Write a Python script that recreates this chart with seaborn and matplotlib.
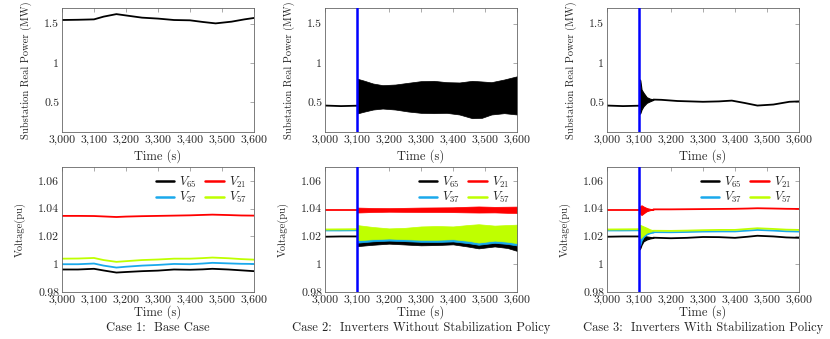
import matplotlib
matplotlib.use('Agg')
import matplotlib.pyplot as plt
import seaborn as sns
from matplotlib.ticker import FuncFormatter, FixedLocator

# ---------- data ----------
# Case 1: base case
t1 = [3000, 3050, 3100, 3130, 3170, 3200, 3250, 3300, 3350, 3400, 3440, 3480, 3530, 3570, 3600]
p1 = [1.547, 1.550, 1.555, 1.590, 1.622, 1.605, 1.577, 1.565, 1.547, 1.543, 1.522, 1.504, 1.526, 1.555, 1.573]

t1v = [3000, 3050, 3100, 3130, 3170, 3200, 3250, 3300, 3350, 3400, 3440, 3470, 3520, 3560, 3600]
v65_1 = [0.9962, 0.9962, 0.9967, 0.9955, 0.9940, 0.9944, 0.9950, 0.9954, 0.9962, 0.9960, 0.9963, 0.9967, 0.9962, 0.9956, 0.9950]
v21_1 = [1.0348, 1.0348, 1.0347, 1.0344, 1.0340, 1.0343, 1.0346, 1.0348, 1.0350, 1.0352, 1.0355, 1.0357, 1.0354, 1.0351, 1.0350]
v37_1 = [1.0000, 1.0000, 1.0005, 0.9990, 0.9976, 0.9982, 0.9990, 0.9995, 1.0002, 1.0000, 1.0005, 1.0010, 1.0006, 1.0003, 1.0002]
v57_1 = [1.0040, 1.0041, 1.0045, 1.0030, 1.0017, 1.0022, 1.0030, 1.0034, 1.0040, 1.0040, 1.0044, 1.0048, 1.0043, 1.0037, 1.0033]

# before the inverters switch on (cases 2 and 3)
t_pre = [3000, 3050, 3100]
p_pre = [0.457, 0.450, 0.455]
v65_pre = [1.0198, 1.0200, 1.0200]
v21_pre = [1.0390, 1.0390, 1.0390]
v37_pre = [1.0243, 1.0243, 1.0244]
v57_pre = [1.0250, 1.0251, 1.0252]

# Case 2: oscillation envelopes after 3100 s
t2 = [3100, 3120, 3150, 3180, 3220, 3260, 3300, 3340, 3380, 3420, 3460, 3490, 3520, 3560, 3600]
p2_hi = [0.800, 0.777, 0.738, 0.717, 0.725, 0.747, 0.768, 0.772, 0.755, 0.751, 0.772, 0.764, 0.755, 0.789, 0.830]
p2_lo = [0.355, 0.377, 0.406, 0.419, 0.406, 0.381, 0.364, 0.360, 0.364, 0.343, 0.296, 0.300, 0.343, 0.360, 0.343]

t2v = [3100, 3150, 3200, 3250, 3300, 3350, 3400, 3450, 3480, 3530, 3570, 3600]
v21_2_hi = [1.0408, 1.0405, 1.0404, 1.0406, 1.0408, 1.0409, 1.0410, 1.0414, 1.0416, 1.0413, 1.0414, 1.0415]
v21_2_lo = [1.0372, 1.0376, 1.0378, 1.0377, 1.0376, 1.0376, 1.0375, 1.0373, 1.0372, 1.0373, 1.0370, 1.0369]
v57_2_hi = [1.0282, 1.0268, 1.0258, 1.0262, 1.0272, 1.0275, 1.0272, 1.0283, 1.0288, 1.0278, 1.0282, 1.0285]
v57_2_lo = [1.0172, 1.0180, 1.0185, 1.0180, 1.0176, 1.0176, 1.0180, 1.0168, 1.0156, 1.0170, 1.0162, 1.0152]
v37_2_hi = [1.0250, 1.0250, 1.0250, 1.0250, 1.0250, 1.0250, 1.0250, 1.0250, 1.0250, 1.0250, 1.0250, 1.0250]
v37_2_lo = [1.0155, 1.0165, 1.0170, 1.0166, 1.0161, 1.0160, 1.0164, 1.0151, 1.0140, 1.0154, 1.0146, 1.0135]
v65_2_hi = [1.0180, 1.0185, 1.0188, 1.0185, 1.0182, 1.0182, 1.0185, 1.0176, 1.0168, 1.0178, 1.0172, 1.0165]
v65_2_lo = [1.0130, 1.0140, 1.0148, 1.0142, 1.0136, 1.0138, 1.0143, 1.0126, 1.0114, 1.0128, 1.0117, 1.0096]

# Case 3: short ringing after 3100 s, then settled
t3r = [3100, 3102, 3104, 3108, 3114, 3124, 3135, 3145]
p3r_hi = [0.460, 0.790, 0.780, 0.660, 0.620, 0.563, 0.543, 0.536]
p3r_lo = [0.450, 0.353, 0.360, 0.407, 0.449, 0.492, 0.513, 0.530]
v21_3r_hi = [1.0392, 1.0405, 1.0418, 1.0424, 1.0415, 1.0404, 1.0398, 1.0396]
v21_3r_lo = [1.0388, 1.0375, 1.0362, 1.0355, 1.0366, 1.0382, 1.0390, 1.0393]
v57_3r_hi = [1.0254, 1.0280, 1.0282, 1.0278, 1.0272, 1.0262, 1.0250, 1.0244]
v57_3r_lo = [1.0250, 1.0190, 1.0188, 1.0195, 1.0210, 1.0228, 1.0236, 1.0240]
v37_3r_hi = [1.0246, 1.0262, 1.0260, 1.0256, 1.0250, 1.0244, 1.0237, 1.0233]
v37_3r_lo = [1.0242, 1.0135, 1.0140, 1.0170, 1.0195, 1.0215, 1.0225, 1.0229]
v65_3r_hi = [1.0201, 1.0215, 1.0212, 1.0208, 1.0204, 1.0200, 1.0196, 1.0193]
v65_3r_lo = [1.0199, 1.0108, 1.0115, 1.0140, 1.0165, 1.0178, 1.0186, 1.0190]

t3s = [3145, 3170, 3220, 3300, 3350, 3390, 3430, 3470, 3520, 3570, 3600]
p3s = [0.533, 0.530, 0.515, 0.505, 0.510, 0.520, 0.490, 0.457, 0.470, 0.505, 0.510]
t3sv = [3145, 3200, 3250, 3300, 3350, 3400, 3440, 3470, 3520, 3560, 3600]
v65_3s = [1.0191, 1.0187, 1.0190, 1.0196, 1.0195, 1.0190, 1.0198, 1.0205, 1.0200, 1.0193, 1.0190]
v37_3s = [1.0231, 1.0230, 1.0232, 1.0235, 1.0236, 1.0236, 1.0242, 1.0247, 1.0242, 1.0237, 1.0235]
v57_3s = [1.0241, 1.0240, 1.0242, 1.0245, 1.0247, 1.0247, 1.0254, 1.0259, 1.0254, 1.0249, 1.0247]
v21_3s = [1.0395, 1.0395, 1.0396, 1.0397, 1.0398, 1.0399, 1.0401, 1.0403, 1.0401, 1.0399, 1.0398]

switch_time = 3100
captions = ['Case 1:  Base Case',
            'Case 2:  Inverters Without Stabilization Policy',
            'Case 3:  Inverters With Stabilization Policy']

c65, c21, c37, c57 = 'black', '#ff0000', '#1aa9ec', '#bfff00'

# ---------- style ----------
sns.set_theme(style='white')
plt.rcParams['font.family'] = ['cmr10', 'DejaVu Serif']
plt.rcParams['mathtext.fontset'] = 'cm'
plt.rcParams['axes.formatter.use_mathtext'] = True
plt.rcParams['axes.unicode_minus'] = False

fig = plt.figure(figsize=(8.3, 3.39), dpi=100)
lefts = [62 / 830, 325 / 830, 607 / 830]
w = 192 / 830
axes_top = [fig.add_axes([l, 1 - 132 / 339, w, 124 / 339]) for l in lefts]
axes_bot = [fig.add_axes([l, 1 - 292 / 339, w, 125 / 339]) for l in lefts]

lw = 1.3

def style_ax(ax, ylim, yticks, ylabel, xpad):
    ax.set_xlim(3000, 3600)
    ax.set_ylim(*ylim)
    ax.xaxis.set_major_locator(FixedLocator([3000, 3100, 3200, 3300, 3400, 3500, 3600]))
    ax.xaxis.set_major_formatter(FuncFormatter(lambda x, p: f'{x:,.0f}'))
    ax.yaxis.set_major_locator(FixedLocator(yticks))
    ax.yaxis.set_major_formatter(FuncFormatter(lambda y, p: f'{y:g}'))
    ax.tick_params(direction='in', top=True, right=True, length=3, width=0.5,
                   color='#888888', labelsize=8.5, pad=2)
    for s in ax.spines.values():
        s.set_color('#666666')
        s.set_linewidth(0.6)
    ax.set_xlabel('Time (s)', fontsize=9, labelpad=xpad)
    ax.set_ylabel(ylabel, fontsize=7.6, labelpad=9)

# ---------- top row: substation power ----------
sns.lineplot(x=t1, y=p1, ax=axes_top[0], color='black', lw=lw)

ax = axes_top[1]
sns.lineplot(x=t_pre, y=p_pre, ax=ax, color='black', lw=lw)
ax.fill_between(t2, p2_lo, p2_hi, color='black', lw=0.5)

ax = axes_top[2]
sns.lineplot(x=t_pre, y=p_pre, ax=ax, color='black', lw=lw)
ax.fill_between(t3r, p3r_lo, p3r_hi, color='black', lw=0.8)
sns.lineplot(x=t3s, y=p3s, ax=ax, color='black', lw=lw)

for ax in axes_top:
    style_ax(ax, (0.12, 1.7), [0.5, 1, 1.5], 'Substation Real Power (MW)', 3)

# ---------- bottom row: voltages ----------
ax = axes_bot[0]
for y, c, lab in [(v65_1, c65, '$V_{65}$'), (v21_1, c21, '$V_{21}$'),
                  (v37_1, c37, '$V_{37}$'), (v57_1, c57, '$V_{57}$')]:
    sns.lineplot(x=t1v, y=y, ax=ax, color=c, lw=lw, label=lab)

ax = axes_bot[1]
for pre, lo, hi, c, lab in [(v65_pre, v65_2_lo, v65_2_hi, c65, '$V_{65}$'),
                            (v21_pre, v21_2_lo, v21_2_hi, c21, '$V_{21}$'),
                            (v37_pre, v37_2_lo, v37_2_hi, c37, '$V_{37}$'),
                            (v57_pre, v57_2_lo, v57_2_hi, c57, '$V_{57}$')]:
    sns.lineplot(x=t_pre, y=pre, ax=ax, color=c, lw=lw, label=lab)
    ax.fill_between(t2v, lo, hi, color=c, lw=0.5)

ax = axes_bot[2]
for pre, lo, hi, post, c, lab in [(v65_pre, v65_3r_lo, v65_3r_hi, v65_3s, c65, '$V_{65}$'),
                                  (v21_pre, v21_3r_lo, v21_3r_hi, v21_3s, c21, '$V_{21}$'),
                                  (v37_pre, v37_3r_lo, v37_3r_hi, v37_3s, c37, '$V_{37}$'),
                                  (v57_pre, v57_3r_lo, v57_3r_hi, v57_3s, c57, '$V_{57}$')]:
    sns.lineplot(x=t_pre, y=pre, ax=ax, color=c, lw=lw, label=lab)
    ax.fill_between(t3r, lo, hi, color=c, lw=0.8)
    sns.lineplot(x=t3sv, y=post, ax=ax, color=c, lw=lw)

for ax in axes_bot:
    style_ax(ax, (0.98, 1.07), [0.98, 1, 1.02, 1.04, 1.06], 'Voltage(pu)', 0.5)
    handles, labels = ax.get_legend_handles_labels()
    order = [0, 2, 1, 3]  # two columns filled column-wise -> rows V65 V21 / V37 V57
    ax.legend([handles[i] for i in order], [labels[i] for i in order],
              loc='upper right', ncol=2, frameon=False, fontsize=9,
              handlelength=1.5, handletextpad=0.4, columnspacing=0.6,
              labelspacing=0.05, borderaxespad=0.2)
    for line in ax.get_legend().get_lines():
        line.set_linewidth(1.8)

# switch-on marker
for ax in [axes_top[1], axes_top[2], axes_bot[1], axes_bot[2]]:
    ax.axvline(switch_time, color='#0000ff', lw=1.8, zorder=5)

for l, cap in zip(lefts, captions):
    fig.text(l + w / 2, 1 - 328 / 339, cap, ha='center', va='center', fontsize=9)

fig.savefig('out.png', dpi=100)
